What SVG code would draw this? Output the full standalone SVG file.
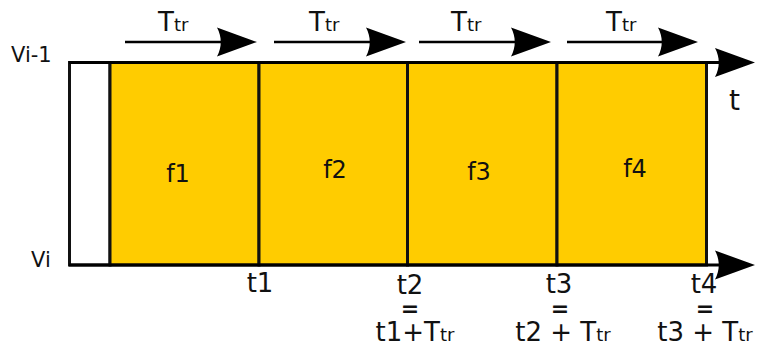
<svg xmlns="http://www.w3.org/2000/svg" xmlns:xlink="http://www.w3.org/1999/xlink" width="757" height="350" viewBox="0 0 757 350">
<style>
text{font-family:"DejaVu Sans",sans-serif;fill:#111}
.cell{fill:#FFCC00;stroke:#111;stroke-width:3}
.blank{fill:#fff;stroke:#111;stroke-width:3}
.ln{stroke:#000;stroke-width:3;fill:none}
.tl{stroke:#000;stroke-width:2.5;fill:none}
.big{font-size:26px}
.sub{font-size:18px}
.f{font-size:24px;text-anchor:middle}
.m{font-size:26px;text-anchor:middle}
.eq{font-size:22px;font-weight:bold;text-anchor:middle}
</style>
<defs>
<path id="ah" d="M0,0 L-40,-14.5 C-35,-5 -35,5 -40,14.5 Z" fill="#000"/>
</defs>
<g id="blank"><rect class="blank" x="69.5" y="62.5" width="40.5" height="202.5"/></g>
<g id="f1"><rect class="cell" x="110" y="62.5" width="149" height="202.5"/><text class="f" x="178" y="182">f1</text></g>
<g id="f2"><rect class="cell" x="259" y="62.5" width="148.5" height="202.5"/><text class="f" x="335" y="178">f2</text></g>
<g id="f3"><rect class="cell" x="407.5" y="62.5" width="149.5" height="202.5"/><text class="f" x="479" y="180">f3</text></g>
<g id="f4"><rect class="cell" x="557" y="62.5" width="149.5" height="202.5"/><text class="f" x="635" y="177">f4</text></g>
<g id="connectors">
<line class="ln" x1="69" y1="62.5" x2="725" y2="62.5"/>
<use xlink:href="#ah" x="755" y="62.5"/>
<line class="ln" x1="69" y1="265" x2="725" y2="265"/>
<use xlink:href="#ah" x="755" y="265"/>
<line class="tl" x1="125" y1="42" x2="225" y2="42"/>
<use xlink:href="#ah" x="257" y="42"/>
<line class="tl" x1="274" y1="42" x2="374" y2="42"/>
<use xlink:href="#ah" x="406" y="42"/>
<line class="tl" x1="419" y1="42" x2="519" y2="42"/>
<use xlink:href="#ah" x="551" y="42"/>
<line class="tl" x1="567" y1="42" x2="666" y2="42"/>
<use xlink:href="#ah" x="698" y="42"/>
</g>
<g id="labels">
<text class="big" x="158" y="31">T<tspan class="sub">tr</tspan></text>
<text class="big" x="309" y="31">T<tspan class="sub">tr</tspan></text>
<text class="big" x="451" y="31">T<tspan class="sub">tr</tspan></text>
<text class="big" x="606" y="31">T<tspan class="sub">tr</tspan></text>
<text x="11" y="62" font-size="21">Vi-1</text>
<text x="31" y="267" font-size="21">Vi</text>
<text x="729" y="110" font-size="28">t</text>
<text class="m" x="260" y="292">t1</text>
<text class="m" x="410" y="294">t2</text>
<text class="m" x="559" y="293">t3</text>
<text class="m" x="704" y="293">t4</text>
<text class="eq" x="410" y="316">=</text>
<text class="eq" x="560" y="316">=</text>
<text class="eq" x="705" y="316">=</text>
<text class="m" x="415" y="341">t1+T<tspan class="sub">tr</tspan></text>
<text class="m" x="563" y="341">t2 + T<tspan class="sub">tr</tspan></text>
<text class="m" x="705" y="341">t3 + T<tspan class="sub">tr</tspan></text>
</g>
</svg>
